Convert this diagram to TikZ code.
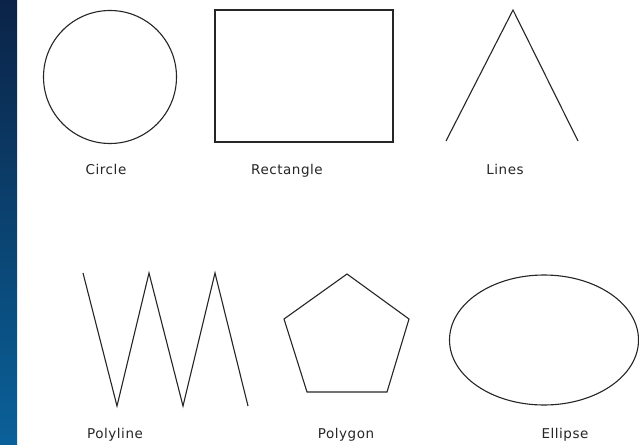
\documentclass[tikz,border=0pt]{standalone}
\usepackage{fontspec}
\setmainfont{DejaVu Sans}[LetterSpace=4]
\definecolor{stripTop}{HTML}{0B2347}
\definecolor{stripBot}{HTML}{0A6199}
\begin{document}
\begin{tikzpicture}[x=1pt,y=-1pt,
  outline/.style={draw=black!85,line width=1.1pt},
  lbl/.style={font=\fontsize{13.5}{15}\selectfont,text=black!85,inner sep=0pt,anchor=base}]
\useasboundingbox (0,0) rectangle (639,444);
\fill[white] (0,0) rectangle (639,444);
\shade[top color=stripTop,bottom color=stripBot] (0,0) rectangle (17,444);
% circle
\draw[outline] (110,77) circle[radius=66.5];
\node[lbl] (lcircle) at (106,174) {Circle};
% rectangle
\draw[outline] (215,10) rectangle (393,142);
\node[lbl] (lrect) at (287,174) {Rectangle};
% lines
\coordinate (l1) at (446,141);
\coordinate (l2) at (513,10);
\coordinate (l3) at (578,141);
\draw[outline] (l1) -- (l2) -- (l3);
\node[lbl] (llines) at (505,174) {Lines};
% polyline
\coordinate (p1) at (83,273);
\coordinate (p2) at (117,406);
\coordinate (p3) at (149,273);
\coordinate (p4) at (183,406);
\coordinate (p5) at (215,273);
\coordinate (p6) at (248,406);
\draw[outline] (p1) -- (p2) -- (p3) -- (p4) -- (p5) -- (p6);
\node[lbl] (lpoly) at (115,438) {Polyline};
% polygon
\coordinate (g1) at (347,274);
\coordinate (g2) at (409,319);
\coordinate (g3) at (387,392);
\coordinate (g4) at (307,392);
\coordinate (g5) at (284,319);
\draw[outline] (g1) -- (g2) -- (g3) -- (g4) -- (g5) -- cycle;
\node[lbl] (lpgon) at (346,438) {Polygon};
% ellipse
\draw[outline] (544,340) ellipse[x radius=94.5,y radius=65];
\node[lbl] (lell) at (565,438) {Ellipse};
\end{tikzpicture}
\end{document}
